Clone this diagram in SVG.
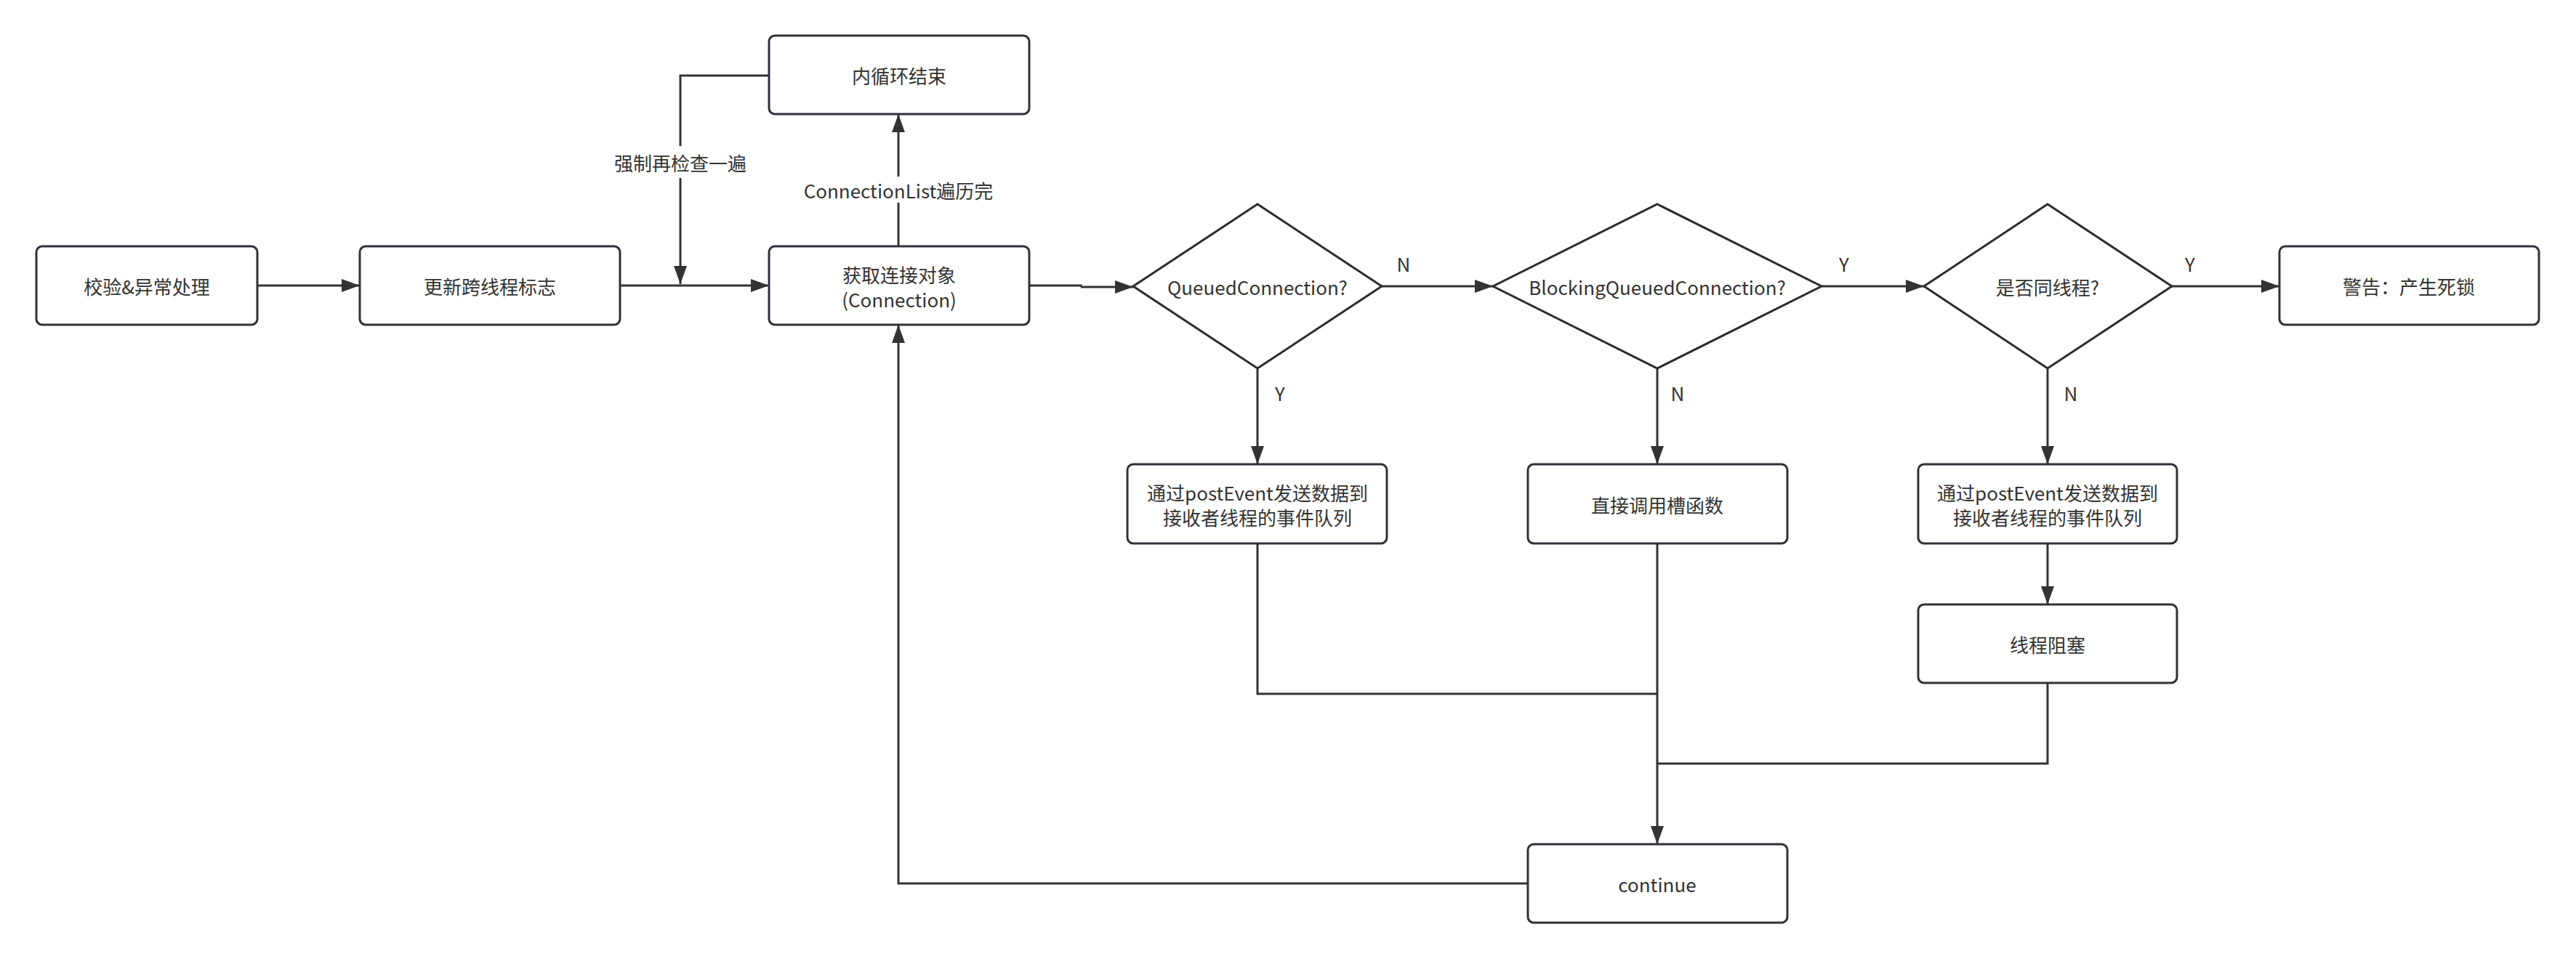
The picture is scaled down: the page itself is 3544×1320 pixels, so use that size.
<svg xmlns="http://www.w3.org/2000/svg" width="3544" height="1320" viewBox="0 0 3544 1320">
<style>
.box{fill:#fff;stroke:#2e3238;stroke-width:3}
.dia{fill:#fff;stroke:#2b2b2b;stroke-width:3}
.t{font-family:"Noto Sans CJK SC","Noto Sans",sans-serif;font-size:26px;fill:#333;text-anchor:middle;dominant-baseline:central}
.c{fill:none;stroke:#333;stroke-width:3}
.a{marker-end:url(#arr)}
.bg{fill:#fff}
</style>
<defs>
<marker id="arr" viewBox="0 0 25 18" refX="25" refY="9" markerWidth="25" markerHeight="18" markerUnits="userSpaceOnUse" orient="auto">
<path d="M0,0 L25,9 L0,18 z" fill="#333"/>
</marker>
</defs>
<rect width="3544" height="1320" fill="#fff"/>
<g id="connectors">
<path class="c a" d="M354 393 H495"/>
<path class="c a" d="M853 393 H1058"/>
<path class="c a" d="M1058 104 H936 V391"/>
<path class="c a" d="M1236 339 V157"/>
<path class="c" d="M1416 393 H1487 V395"/>
<path class="c a" d="M1487 395 H1559"/>
<path class="c a" d="M1901 394 H2054"/>
<path class="c a" d="M2506 394 H2647"/>
<path class="c a" d="M2988 394 H3136"/>
<path class="c a" d="M1730 507 V639"/>
<path class="c a" d="M2280 507 V639"/>
<path class="c a" d="M2817 507 V639"/>
<path class="c a" d="M2817 748 V832"/>
<path class="c" d="M1730 748 V955 H2280"/>
<path class="c a" d="M2280 748 V1162"/>
<path class="c" d="M2817 940 V1051 H2280"/>
<path class="c a" d="M2102 1216 H1236 V447"/>
<rect class="bg" x="840" y="201" width="192" height="44"/>
<text class="t" x="936" y="223">强制再检查一遍</text>
<rect class="bg" x="1100" y="243" width="272" height="36"/>
<text class="t" x="1236" y="261">ConnectionList遍历完</text>
<text class="t" x="1931" y="362">N</text>
<text class="t" x="2537" y="362">Y</text>
<text class="t" x="3013" y="362">Y</text>
<text class="t" x="1761" y="540">Y</text>
<text class="t" x="2308" y="540">N</text>
<text class="t" x="2849" y="540">N</text>
</g>
<g id="n1"><rect class="box" x="50" y="339" width="304" height="108" rx="8"/><text class="t" x="202" y="393">校验&amp;异常处理</text></g>
<g id="n2"><rect class="box" x="495" y="339" width="358" height="108" rx="8"/><text class="t" x="674" y="393">更新跨线程标志</text></g>
<g id="n3"><rect class="box" x="1058" y="339" width="358" height="108" rx="8"/><text class="t" x="1237" y="377">获取连接对象</text><text class="t" x="1237" y="411">(Connection)</text></g>
<g id="n4"><rect class="box" x="1058" y="49" width="358" height="108" rx="8"/><text class="t" x="1237" y="103">内循环结束</text></g>
<g id="d1"><polygon class="dia" points="1730,281 1901,394 1730,507 1559,394"/><text class="t" x="1730" y="394">QueuedConnection?</text></g>
<g id="d2"><polygon class="dia" points="2280,281 2506,394 2280,507 2054,394"/><text class="t" x="2280" y="394">BlockingQueuedConnection?</text></g>
<g id="d3"><polygon class="dia" points="2817,281 2988,394 2817,507 2647,394"/><text class="t" x="2817" y="394">是否同线程?</text></g>
<g id="n5"><rect class="box" x="3136" y="339" width="357" height="108" rx="8"/><text class="t" x="3314" y="393">警告：产生死锁</text></g>
<g id="n6"><rect class="box" x="1551" y="639" width="357" height="109" rx="8"/><text class="t" x="1730" y="677">通过postEvent发送数据到</text><text class="t" x="1730" y="711">接收者线程的事件队列</text></g>
<g id="n7"><rect class="box" x="2102" y="639" width="357" height="109" rx="8"/><text class="t" x="2280" y="694">直接调用槽函数</text></g>
<g id="n8"><rect class="box" x="2639" y="639" width="356" height="109" rx="8"/><text class="t" x="2817" y="677">通过postEvent发送数据到</text><text class="t" x="2817" y="711">接收者线程的事件队列</text></g>
<g id="n9"><rect class="box" x="2639" y="832" width="356" height="108" rx="8"/><text class="t" x="2817" y="886">线程阻塞</text></g>
<g id="n10"><rect class="box" x="2102" y="1162" width="357" height="108" rx="8"/><text class="t" x="2280" y="1216">continue</text></g>
</svg>
